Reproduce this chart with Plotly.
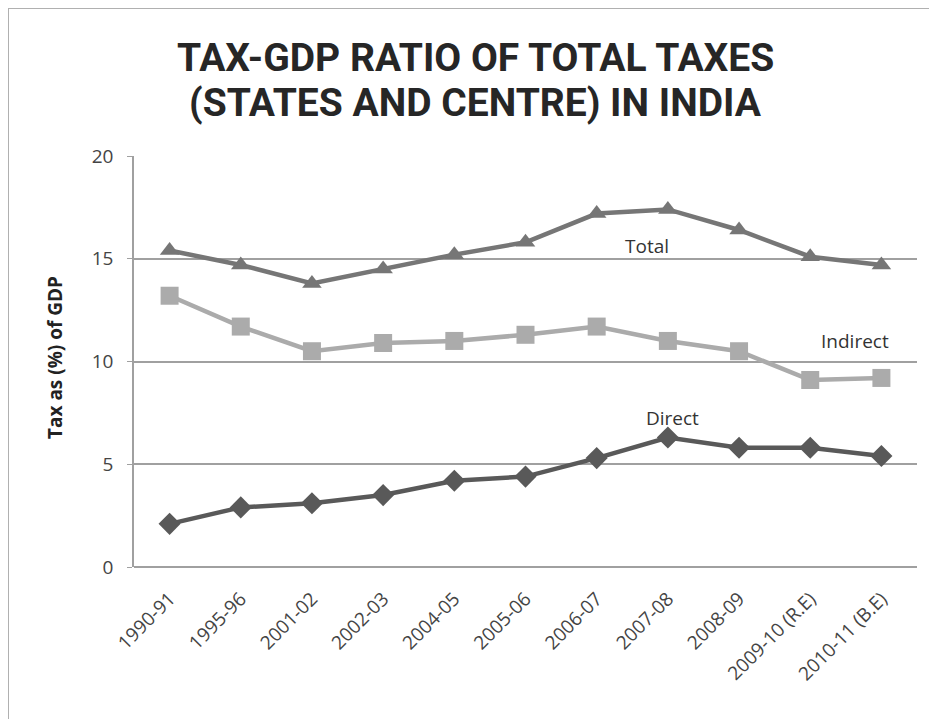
import plotly.graph_objects as go

categories = ["1990-91", "1995-96", "2001-02", "2002-03", "2004-05", "2005-06",
              "2006-07", "2007-08", "2008-09", "2009-10 (R.E)", "2010-11 (B.E)"]
total = [15.4, 14.7, 13.8, 14.5, 15.2, 15.8, 17.2, 17.4, 16.4, 15.1, 14.7]
indirect = [13.2, 11.7, 10.5, 10.9, 11.0, 11.3, 11.7, 11.0, 10.5, 9.1, 9.2]
direct = [2.1, 2.9, 3.1, 3.5, 4.2, 4.4, 5.3, 6.3, 5.8, 5.8, 5.4]
title_lines = ["TAX-GDP RATIO OF TOTAL TAXES", "(STATES AND CENTRE) IN INDIA"]

body_font = "'Open Sans', Lato, sans-serif"
title_font = "Roboto, 'Open Sans', sans-serif"

# figure sized to fit inside the page's default 8px body margin
W, H = 929, 711
ML, MR, MT, MB = 126, 20, 148, 152
PW, PH = W - ML - MR, H - MT - MB


def px(xp):  # figure pixel x -> paper x
    return (xp - ML) / PW


def py(yp):  # figure pixel y -> paper y
    return (H - MB - yp) / PH


fig = go.Figure()
fig.add_trace(go.Scatter(x=categories, y=total, name="Total", mode="lines+markers",
                         line=dict(color="#767676", width=4.5),
                         marker=dict(symbol="triangle-up", size=17, color="#767676")))
fig.add_trace(go.Scatter(x=categories, y=indirect, name="Indirect", mode="lines+markers",
                         line=dict(color="#ababab", width=4.5),
                         marker=dict(symbol="square", size=18, color="#ababab")))
fig.add_trace(go.Scatter(x=categories, y=direct, name="Direct", mode="lines+markers",
                         line=dict(color="#595959", width=4.5),
                         marker=dict(symbol="diamond", size=17, color="#595959")))

# series labels
for txt, xc, yv in [("Total", 6.7, 15.6), ("Indirect", 9.63, 11.0), ("Direct", 7.06, 7.25)]:
    fig.add_annotation(x=xc, y=yv, text=txt, showarrow=False, xref="x", yref="y",
                       font=dict(family=body_font, size=19, color="#333333"))

# chart title (two lines)
for line, ypix in zip(title_lines, [50, 95]):
    fig.add_annotation(xref="paper", yref="paper", x=px(467), y=py(ypix),
                       xanchor="center", yanchor="middle", showarrow=False,
                       text="<b>" + line + "</b>",
                       font=dict(family=title_font, size=39, color="#262626"))

# y axis title
fig.add_annotation(xref="paper", yref="paper", x=px(47), y=py(350),
                   xanchor="center", yanchor="middle", showarrow=False, textangle=-90,
                   text="<b>Tax as (%) of GDP</b>",
                   font=dict(family=body_font, size=19, color="#222222"))

fig.update_layout(
    width=W, height=H,
    paper_bgcolor="white", plot_bgcolor="white",
    margin=dict(l=ML, r=MR, t=MT, b=MB, autoexpand=False),
    showlegend=False,
    font=dict(family=body_font, color="#444444"),
)
fig.update_xaxes(type="category", range=[-0.5, 10.5], showgrid=False, automargin=False,
                 showline=False, ticks="", tickangle=-45, ticklabelstandoff=16,
                 tickfont=dict(family=body_font, size=19, color="#444444"))
fig.update_yaxes(range=[0, 20], dtick=5, showgrid=True, gridcolor="#a0a0a0", gridwidth=1.5,
                 automargin=False,
                 showline=True, linecolor="#a0a0a0", linewidth=1.5,
                 ticks="outside", ticklen=5, tickcolor="#a0a0a0", ticklabelstandoff=10,
                 zeroline=True, zerolinecolor="#a0a0a0", zerolinewidth=1.5,
                 tickfont=dict(family=body_font, size=19, color="#444444"))

# outer frame lines (left and top border of the chart box)
fig.add_shape(type="line", xref="paper", yref="paper", x0=px(0), x1=px(0), y0=py(0), y1=py(H + 20),
              line=dict(color="#b0b0b0", width=2))
fig.add_shape(type="line", xref="paper", yref="paper", x0=px(0), x1=px(W + 20), y0=py(0), y1=py(0),
              line=dict(color="#b0b0b0", width=2))

fig.write_html("out.html")
